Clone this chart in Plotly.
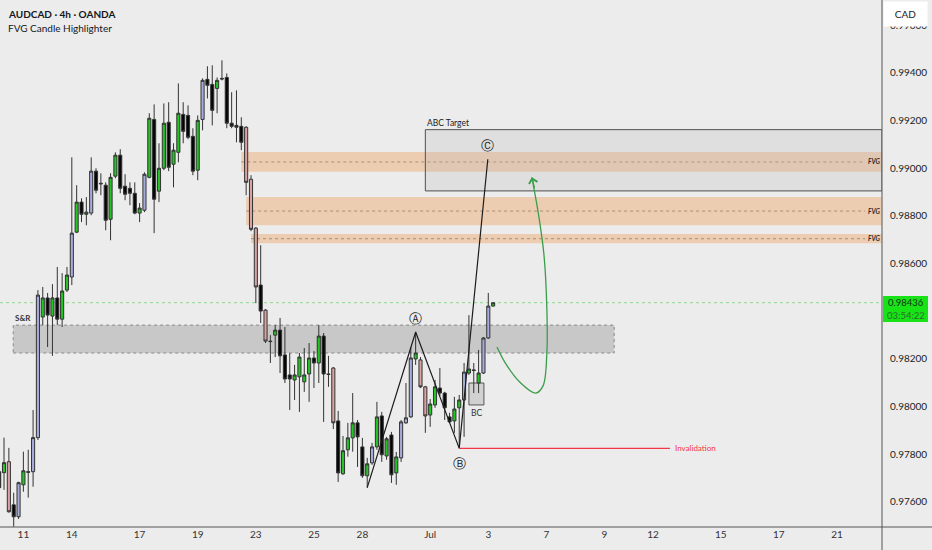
import plotly.graph_objects as go

# AUDCAD 4h candles (bar index 0..102)
opens = [0.97727, 0.97723, 0.97769, 0.97588, 0.97538, 0.97672, 0.97727, 0.97727, 0.97870, 0.98376,
         0.98456, 0.98380, 0.98456, 0.98367, 0.98489, 0.98544, 0.98732, 0.98858, 0.98807, 0.98812,
         0.98988, 0.98937, 0.98929, 0.98786, 0.98967, 0.99055, 0.98925, 0.98916, 0.98895, 0.98812,
         0.98824, 0.98962, 0.99205, 0.98904, 0.99000, 0.99193, 0.99017, 0.99067, 0.99226, 0.99222,
         0.99134, 0.98992, 0.99205, 0.99373, 0.99352, 0.99335, 0.99377, 0.99381, 0.99189, 0.99180,
         0.99176, 0.99172, 0.98954, 0.98749, 0.98510, 0.98405, 0.98275, 0.98300, 0.98321, 0.98217,
         0.98133, 0.98112, 0.98125, 0.98104, 0.98137, 0.98204, 0.98183, 0.98296, 0.98137, 0.98162,
         0.97940, 0.97718, 0.97819, 0.97869, 0.97932, 0.97831, 0.97710, 0.97764, 0.97831, 0.97961,
         0.97793, 0.97881, 0.97722, 0.97785, 0.97932, 0.97957, 0.98200, 0.98196, 0.98083, 0.97965,
         0.98007, 0.98078, 0.98057, 0.97957, 0.97940, 0.97995, 0.98028, 0.98141, 0.98154, 0.98099,
         0.98141, 0.98288, 0.98422]
highs = [0.97769, 0.97870, 0.97827, 0.97639, 0.97685, 0.97811, 0.97819, 0.97986, 0.98489, 0.98502,
         0.98477, 0.98514, 0.98586, 0.98560, 0.98586, 0.99046, 0.98929, 0.98874, 0.98879, 0.99046,
         0.99000, 0.98979, 0.98941, 0.98979, 0.99067, 0.99080, 0.98975, 0.98941, 0.98941, 0.98854,
         0.98983, 0.99231, 0.99268, 0.99105, 0.99272, 0.99277, 0.99105, 0.99356, 0.99277, 0.99264,
         0.99168, 0.99222, 0.99377, 0.99428, 0.99432, 0.99381, 0.99453, 0.99398, 0.99319, 0.99327,
         0.99214, 0.99176, 0.98971, 0.98753, 0.98677, 0.98409, 0.98300, 0.98342, 0.98372, 0.98334,
         0.98225, 0.98175, 0.98225, 0.98246, 0.98267, 0.98233, 0.98342, 0.98309, 0.98213, 0.98166,
         0.97982, 0.97877, 0.97932, 0.98057, 0.97944, 0.97869, 0.97785, 0.97848, 0.98020, 0.97978,
         0.97873, 0.97894, 0.97810, 0.97944, 0.98099, 0.98250, 0.98313, 0.98208, 0.98087, 0.98032,
         0.98112, 0.98162, 0.98062, 0.97974, 0.98041, 0.98049, 0.98183, 0.98384, 0.98183, 0.98238,
         0.98292, 0.98477, 0.98436]
lows = [0.97630, 0.97651, 0.97555, 0.97496, 0.97529, 0.97643, 0.97618, 0.97664, 0.97860, 0.98342,
        0.98250, 0.98213, 0.98342, 0.98334, 0.98481, 0.98510, 0.98728, 0.98774, 0.98761, 0.98803,
        0.98895, 0.98887, 0.98740, 0.98698, 0.98958, 0.98895, 0.98866, 0.98845, 0.98807, 0.98774,
        0.98816, 0.98958, 0.98728, 0.98858, 0.98992, 0.98988, 0.98920, 0.99025, 0.99105, 0.99122,
        0.98971, 0.98950, 0.99159, 0.99293, 0.99180, 0.99231, 0.99369, 0.99168, 0.99168, 0.99109,
        0.99076, 0.98887, 0.98736, 0.98434, 0.98351, 0.98267, 0.98183, 0.98208, 0.98141, 0.98099,
        0.97986, 0.98028, 0.97978, 0.98062, 0.98020, 0.98078, 0.98099, 0.97936, 0.98083, 0.97906,
        0.97684, 0.97714, 0.97790, 0.97811, 0.97747, 0.97701, 0.97660, 0.97756, 0.97819, 0.97768,
        0.97777, 0.97680, 0.97672, 0.97768, 0.97928, 0.97953, 0.98175, 0.98078, 0.97890, 0.97915,
        0.97995, 0.98045, 0.97944, 0.97932, 0.97890, 0.97825, 0.97873, 0.98133, 0.98057, 0.98057,
        0.98137, 0.98284, 0.98420]
closes = [0.97660, 0.97765, 0.97559, 0.97538, 0.97681, 0.97731, 0.97725, 0.97870, 0.98468, 0.98456,
          0.98384, 0.98456, 0.98367, 0.98485, 0.98552, 0.98728, 0.98858, 0.98807, 0.98816, 0.98988,
          0.98908, 0.98935, 0.98782, 0.98962, 0.99055, 0.98916, 0.98891, 0.98895, 0.98812, 0.98833,
          0.98975, 0.99210, 0.98870, 0.99000, 0.99189, 0.99004, 0.99076, 0.99231, 0.99155, 0.99130,
          0.98988, 0.99201, 0.99369, 0.99348, 0.99243, 0.99369, 0.99375, 0.99189, 0.99176, 0.99172,
          0.99109, 0.98941, 0.98744, 0.98502, 0.98401, 0.98275, 0.98273, 0.98321, 0.98213, 0.98116,
          0.98116, 0.98133, 0.98208, 0.98133, 0.98204, 0.98183, 0.98296, 0.98137, 0.98135, 0.97932,
          0.97722, 0.97815, 0.97869, 0.97932, 0.97873, 0.97710, 0.97760, 0.97831, 0.97957, 0.97798,
          0.97865, 0.97714, 0.97789, 0.97936, 0.97953, 0.98204, 0.98225, 0.98083, 0.97961, 0.98011,
          0.98083, 0.98057, 0.97995, 0.97936, 0.97990, 0.98028, 0.98145, 0.98158, 0.98152, 0.98141,
          0.98288, 0.98422, 0.98436]
# 1 = candle flagged by the FVG Candle Highlighter
fvg_flag = [0, 0, 1, 0, 1, 0, 0, 1, 1, 0,
            0, 0, 0, 0, 0, 1, 0, 0, 0, 1,
            0, 0, 0, 0, 0, 0, 0, 0, 0, 0,
            1, 0, 0, 0, 0, 0, 0, 0, 0, 0,
            0, 0, 1, 0, 0, 0, 0, 0, 0, 0,
            0, 1, 1, 1, 0, 1, 0, 0, 0, 0,
            0, 0, 0, 0, 0, 0, 0, 0, 0, 1,
            0, 0, 0, 0, 0, 0, 0, 1, 0, 0,
            0, 0, 0, 1, 1, 1, 0, 1, 1, 0,
            0, 0, 0, 0, 0, 0, 1, 0, 0, 0,
            1, 1, 0]

tick_pos = [5, 15, 29, 41, 53, 65, 75, 89, 101, 113, 125, 135, 149, 161, 173]
tick_text = ["11", "14", "17", "19", "23", "25", "28", "Jul", "3", "7", "9", "12", "15", "17", "21"]
price_ticks = [0.976, 0.978, 0.980, 0.982, 0.984, 0.986, 0.988, 0.990, 0.992, 0.994, 0.996]

last_price = 0.98436
countdown = "03:54:22"

# FVG zones: (start bar, bottom, top)
fvg_zones = [(50, 0.98985, 0.99068), (51, 0.98761, 0.98880), (52, 0.98685, 0.98724)]
sr_zone = (2.9, 127.0, 0.98225, 0.98342)
abc_box = (88.0, 0.98905, 0.99162)
bc_box = (97.0, 100.1, 0.98007, 0.98099)

abc_x = [76, 86, 95, 100.9]
abc_y = [0.97660, 0.98313, 0.97825, 0.99038]
abc_names = ["Ⓐ", "Ⓑ", "Ⓒ"]
invalid_end = 138.5

path_x = [102.8, 104.4, 107.5, 110.8, 112.3, 113.1, 113.1, 112.5, 111.4, 110.0]
path_y = [0.98250, 0.98187, 0.98103, 0.98057, 0.98087, 0.98229, 0.98405, 0.98636, 0.98803, 0.98962]

XMIN, XMAX = 0.17, 182.3
YMIN, YMAX = 0.97495, 0.99706
BG = "#ececec"
FONT = "Lato"

idx = list(range(len(opens)))

def pick(vals, flag):
    return [v for v, f in zip(vals, fvg_flag) if f == flag]

fig = go.Figure()

for flag, up_col, dn_col in [(0, "#25c425", "#050505"), (1, "#a7addb", "#d9a3a3")]:
    fig.add_trace(go.Candlestick(
        x=pick(idx, flag), open=pick(opens, flag), high=pick(highs, flag),
        low=pick(lows, flag), close=pick(closes, flag),
        increasing=dict(fillcolor=up_col, line=dict(color="#333333", width=1)),
        decreasing=dict(fillcolor=dn_col, line=dict(color="#333333", width=1)),
        whiskerwidth=0, showlegend=False, hoverinfo="skip"))

# ABC swing lines
fig.add_trace(go.Scatter(x=abc_x, y=abc_y, mode="lines",
                         line=dict(color="#1c1c1c", width=1.2),
                         showlegend=False, hoverinfo="skip"))
# invalidation line
fig.add_trace(go.Scatter(x=[abc_x[2], invalid_end], y=[abc_y[2], abc_y[2]], mode="lines",
                         line=dict(color="#f23645", width=1.3),
                         showlegend=False, hoverinfo="skip"))
# projected path
fig.add_trace(go.Scatter(x=path_x, y=path_y, mode="lines",
                         line=dict(color="#3a9d4a", width=1.3, shape="spline"),
                         showlegend=False, hoverinfo="skip"))

shapes = []
for x0, lo, hi in fvg_zones:
    shapes.append(dict(type="rect", xref="x", yref="y", x0=x0, x1=XMAX, y0=lo, y1=hi,
                       fillcolor="rgba(240,168,108,0.45)", line=dict(width=0), layer="below"))
    shapes.append(dict(type="line", xref="x", yref="y", x0=x0, x1=178.8,
                       y0=(lo + hi) / 2, y1=(lo + hi) / 2,
                       line=dict(color="rgba(110,90,70,0.55)", width=1, dash="dot"), layer="below"))

shapes.append(dict(type="rect", xref="x", yref="y", x0=sr_zone[0], x1=sr_zone[1],
                   y0=sr_zone[2], y1=sr_zone[3], fillcolor="rgba(150,150,150,0.42)",
                   line=dict(color="#8a8a8a", width=1, dash="dot"), layer="below"))
shapes.append(dict(type="rect", xref="x", yref="y", x0=abc_box[0], x1=XMAX,
                   y0=abc_box[1], y1=abc_box[2], fillcolor="rgba(185,185,185,0.25)",
                   line=dict(color="#505050", width=1), layer="below"))
shapes.append(dict(type="rect", xref="x", yref="y", x0=bc_box[0], x1=bc_box[1],
                   y0=bc_box[2], y1=bc_box[3], fillcolor="rgba(170,170,170,0.4)",
                   line=dict(color="#555555", width=1), layer="below"))
# last price line
shapes.append(dict(type="line", xref="paper", yref="y", x0=0, x1=1, y0=last_price, y1=last_price,
                   line=dict(color="#8fd88f", width=1, dash="dot"), layer="below"))
# price label background on the scale
shapes.append(dict(type="rect", xref="paper", yref="paper", x0=1 + 1 / 882, x1=1 + 46 / 882,
                   y0=1 - 322 / 527, y1=1 - 296 / 527, fillcolor="#17e317", line=dict(width=0)))
# axis frame lines
shapes.append(dict(type="line", xref="paper", yref="paper", x0=1, x1=1, y0=-0.05, y1=1,
                   line=dict(color="#555555", width=1)))
shapes.append(dict(type="line", xref="paper", yref="paper", x0=0, x1=1.06, y0=0, y1=0,
                   line=dict(color="#555555", width=1)))

ann = []
ann.append(dict(xref="paper", yref="paper", x=0.007, y=1 - 14 / 527, xanchor="left", yanchor="middle",
                text="<b>AUDCAD · 4h · OANDA</b>", showarrow=False,
                font=dict(family=FONT, size=10, color="#131722")))
ann.append(dict(xref="paper", yref="paper", x=0.007, y=1 - 27.5 / 527, xanchor="left", yanchor="middle",
                text="FVG Candle Highlighter", showarrow=False,
                font=dict(family=FONT, size=10, color="#131722")))
for x0, lo, hi in fvg_zones:
    ann.append(dict(xref="x", yref="y", x=179.0, y=(lo + hi) / 2, xanchor="left", yanchor="middle",
                    text="<b><i>FVG</i></b>", showarrow=False,
                    font=dict(family=FONT, size=6.5, color="#2a2a2a")))
ann.append(dict(xref="x", yref="y", x=sr_zone[0], y=sr_zone[3], xanchor="left", yanchor="bottom",
                text="<b>S&R</b>", showarrow=False, yshift=0,
                font=dict(family=FONT, size=8, color="#333333")))
ann.append(dict(xref="x", yref="y", x=abc_box[0], y=abc_box[2], xanchor="left", yanchor="bottom",
                text="ABC Target", showarrow=False,
                font=dict(family=FONT, size=8.5, color="#222222")))
for name, xx, yy, shift in zip(abc_names, abc_x[1:], abc_y[1:], [14, -15, 14]):
    ann.append(dict(xref="x", yref="y", x=xx, y=yy, text=name, showarrow=False, yshift=shift,
                    font=dict(family="DejaVu Sans", size=13, color="#1c1c1c")))
ann.append(dict(xref="x", yref="y", x=(bc_box[0] + bc_box[1]) / 2, y=bc_box[2], yanchor="top",
                text="BC", showarrow=False, yshift=-1,
                font=dict(family=FONT, size=8.5, color="#333333")))
ann.append(dict(xref="x", yref="y", x=invalid_end + 0.6, y=abc_y[2], xanchor="left", yanchor="middle",
                text="Invalidation", showarrow=False,
                font=dict(family=FONT, size=8, color="#f23645")))
# arrow head of the projected path
ann.append(dict(xref="x", yref="y", x=path_x[-1], y=path_y[-1], ax=3, ay=12, text="",
                showarrow=True, arrowhead=4, arrowsize=1.4, arrowwidth=1.2, arrowcolor="#3a9d4a"))
# price label text and currency box on the scale
ann.append(dict(xref="paper", yref="paper", x=1 + 23.5 / 882, y=1 - 302.5 / 527, xanchor="center",
                yanchor="middle", text=f"{last_price:.5f}", showarrow=False,
                font=dict(family=FONT, size=9.5, color="#17331a")))
ann.append(dict(xref="paper", yref="paper", x=1 + 23.5 / 882, y=1 - 315 / 527, xanchor="center",
                yanchor="middle", text=countdown, showarrow=False,
                font=dict(family=FONT, size=9.5, color="#2c6e2c")))
ann.append(dict(xref="paper", yref="paper", x=1 + 23.5 / 882, y=1 - 14 / 527, xanchor="center",
                yanchor="middle", text="CAD", showarrow=False, bgcolor="#ffffff", width=41, height=22,
                font=dict(family=FONT, size=10, color="#222222")))

fig.update_layout(
    width=932, height=550,
    margin=dict(l=0, r=50, t=0, b=23),
    paper_bgcolor=BG, plot_bgcolor=BG,
    shapes=shapes, annotations=ann,
    boxgap=0.2, boxgroupgap=0.2,
    xaxis=dict(range=[XMIN, XMAX], tickvals=tick_pos, ticktext=tick_text, showgrid=False,
               zeroline=False, rangeslider=dict(visible=False), ticks="",
               tickfont=dict(family=FONT, size=10, color="#333333"), fixedrange=True),
    yaxis=dict(range=[YMIN, YMAX], side="right", tickvals=price_ticks, tickformat=".5f",
               showgrid=False, zeroline=False, ticks="outside", ticklen=5,
               tickcolor="rgba(0,0,0,0)",
               tickfont=dict(family=FONT, size=10, color="#222222"), fixedrange=True),
    hovermode=False,
)

fig.write_html("out.html", config={"displayModeBar": False},
               post_script="document.body.style.margin='0';")
